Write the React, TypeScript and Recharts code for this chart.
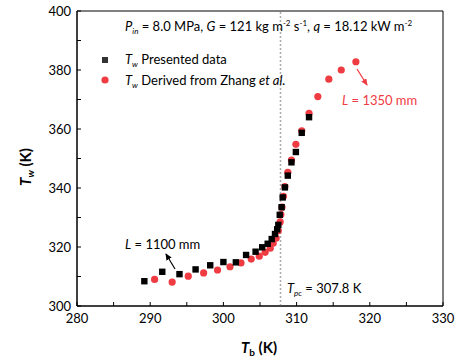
import React from 'react';
import {
  ScatterChart,
  Scatter,
  XAxis,
  YAxis,
  ReferenceLine,
  ReferenceArea
} from 'recharts';

// T_b (K) / T_w (K), presented data
const tbPresented = [289.2, 291.65, 294.0, 296.2, 298.2, 300.0, 301.7, 303.1, 304.4, 305.3, 306.05, 306.6, 307.05, 307.35, 307.5, 307.7, 307.95, 308.1, 308.4, 308.8, 309.3, 309.9, 310.7, 311.7];
const twPresented = [308.4, 311.6, 310.8, 312.4, 313.8, 314.9, 314.8, 317.3, 318.4, 319.9, 321.1, 322.7, 324.4, 326.0, 327.5, 330.9, 333.5, 336.8, 340.2, 344.2, 348.7, 352.2, 358.7, 364.0];

// derived from Zhang et al.
const tbDerived = [290.6, 293.0, 295.2, 297.3, 299.2, 300.9, 302.4, 303.8, 304.9, 305.7, 306.4, 306.8, 307.2, 307.5, 307.75, 307.85, 308.0, 308.2, 308.4, 308.8, 309.3, 309.9, 310.7, 311.7, 312.9, 314.4, 316.1, 318.1];
const twDerived = [309.0, 308.1, 310.1, 311.2, 312.2, 313.3, 314.6, 315.9, 316.9, 318.2, 319.6, 321.3, 323.0, 325.5, 328.5, 331.0, 333.5, 337.2, 340.5, 345.3, 349.5, 354.8, 359.4, 365.3, 371.0, 376.9, 380.0, 382.8];

const xTicks = [280, 285, 290, 295, 300, 305, 310, 315, 320, 325, 330];
const yTicks = [300, 310, 320, 330, 340, 350, 360, 370, 380, 390, 400];
const T_PC = 307.8;

const presented = tbPresented.map((tb, i) => ({ tb, tw: twPresented[i] }));
const derived = tbDerived.map((tb, i) => ({ tb, tw: twDerived[i] }));

const FONT = 'Lato, "Open Sans", sans-serif';
const RED = '#ef3b42';

const XTick = (props: any) => {
  const { x, y, payload } = props;
  const major = payload.value % 10 === 0;
  return (
    <g>
      <line x1={x} x2={x} y1={y} y2={y - 4} stroke="#000" />
      {major && (
        <text x={x} y={y + 17} textAnchor="middle" fontSize={13} fontFamily={FONT} fill="#000">
          {payload.value}
        </text>
      )}
    </g>
  );
};

const YTick = (props: any) => {
  const { x, y, payload } = props;
  const major = payload.value % 20 === 0;
  return (
    <g>
      <line x1={x} x2={x + 4} y1={y} y2={y} stroke="#000" />
      {major && (
        <text x={x - 6} y={y + 4.5} textAnchor="end" fontSize={13} fontFamily={FONT} fill="#000">
          {payload.value}
        </text>
      )}
    </g>
  );
};

const Square = (props: any) => {
  const { cx, cy } = props;
  return <rect x={cx - 3.2} y={cy - 3.2} width={6.4} height={6.4} fill="#000" />;
};

const Dot = (props: any) => {
  const { cx, cy } = props;
  return <circle cx={cx} cy={cy} r={3.6} fill={RED} />;
};

export default function App() {
  return (
    <div style={{ position: 'absolute', left: 0, top: 0, width: 456, height: 360, background: '#fff' }}>
      <ScatterChart width={456} height={360} margin={{ top: 11, right: 13, bottom: 24, left: 0 }}>
        <XAxis
          type="number"
          dataKey="tb"
          domain={[280, 330]}
          ticks={xTicks}
          height={30}
          tickSize={0}
          tickMargin={0}
          tickLine={false}
          tick={<XTick />}
          axisLine={{ stroke: '#000' }}
          interval={0}
        />
        <YAxis
          type="number"
          dataKey="tw"
          domain={[300, 400]}
          ticks={yTicks}
          width={77}
          tickSize={0}
          tickMargin={0}
          tickLine={false}
          tick={<YTick />}
          axisLine={{ stroke: '#000' }}
          interval={0}
        />
        <ReferenceArea x1={280} x2={330} y1={300} y2={400} fill="none" stroke="#000" strokeWidth={1} />
        <ReferenceLine x={T_PC} stroke="#aaa" strokeWidth={1.5} strokeDasharray="2 2" />
        <Scatter data={derived} shape={<Dot />} isAnimationActive={false} />
        <Scatter data={presented} shape={<Square />} isAnimationActive={false} />
      </ScatterChart>

      <svg width={456} height={360} style={{ position: 'absolute', left: 0, top: 0, pointerEvents: 'none' }}>
        <defs>
          <marker id="arrRed" markerWidth="8" markerHeight="8" refX="6" refY="3" orient="auto" markerUnits="userSpaceOnUse">
            <path d="M0,0 L7,3 L0,6 Z" fill={RED} />
          </marker>
          <marker id="arrBlack" markerWidth="8" markerHeight="8" refX="6" refY="3" orient="auto" markerUnits="userSpaceOnUse">
            <path d="M0,0 L7,3 L0,6 Z" fill="#000" />
          </marker>
        </defs>
        <g fontFamily={FONT} fontSize={13} fill="#000">
          {/* header */}
          <text x={125} y={31}>
            <tspan fontStyle="italic">P</tspan>
            <tspan fontStyle="italic" fontSize={8} dy={3}>in</tspan>
            <tspan dy={-3}> = 8.0 MPa, </tspan>
            <tspan fontStyle="italic">G</tspan>
            <tspan> = 121 kg m</tspan>
            <tspan fontSize={8} dy={-5}>-2</tspan>
            <tspan dy={5}> s</tspan>
            <tspan fontSize={8} dy={-5}>-1</tspan>
            <tspan dy={5}>, </tspan>
            <tspan fontStyle="italic">q</tspan>
            <tspan> = 18.12 kW m</tspan>
            <tspan fontSize={8} dy={-5}>-2</tspan>
          </text>

          {/* legend */}
          <rect x={102} y={57} width={6} height={6} fill="#333" />
          <text x={125} y={64}>
            <tspan fontStyle="italic">T</tspan>
            <tspan fontStyle="italic" fontSize={8} dy={3}>w</tspan>
            <tspan dy={-3}> Presented data</tspan>
          </text>
          <circle cx={105} cy={80} r={3.6} fill={RED} />
          <text x={125} y={85}>
            <tspan fontStyle="italic">T</tspan>
            <tspan fontStyle="italic" fontSize={8} dy={3}>w</tspan>
            <tspan dy={-3}> Derived from Zhang </tspan>
            <tspan fontStyle="italic">et al.</tspan>
          </text>

          {/* L = 1350 mm */}
          <line x1={357} y1={69} x2={367} y2={85} stroke={RED} strokeWidth={1.2} markerEnd="url(#arrRed)" />
          <text x={342} y={105} fill={RED}>
            <tspan fontStyle="italic">L</tspan>
            <tspan> = 1350 mm</tspan>
          </text>

          {/* L = 1100 mm */}
          <line x1={175} y1={269} x2={166} y2={254} stroke="#000" strokeWidth={1.2} markerEnd="url(#arrBlack)" />
          <text x={125} y={249}>
            <tspan fontStyle="italic">L</tspan>
            <tspan> = 1100 mm</tspan>
          </text>

          {/* T_pc */}
          <text x={287} y={293}>
            <tspan fontStyle="italic">T</tspan>
            <tspan fontStyle="italic" fontSize={8} dy={3}>pc</tspan>
            <tspan dy={-3}> = 307.8 K</tspan>
          </text>

          {/* axis titles */}
          <text x={259} y={353} textAnchor="middle" fontSize={15} fontWeight="bold">
            <tspan fontStyle="italic">T</tspan>
            <tspan fontSize={10} dy={3}>b</tspan>
            <tspan dy={-3}> (K)</tspan>
          </text>
          <text x={31} y={167} textAnchor="middle" fontSize={15} fontWeight="bold" transform="rotate(-90 31 167)">
            <tspan fontStyle="italic">T</tspan>
            <tspan fontStyle="italic" fontSize={10} dy={3}>w</tspan>
            <tspan dy={-3}> (K)</tspan>
          </text>
        </g>
      </svg>
    </div>
  );
}
